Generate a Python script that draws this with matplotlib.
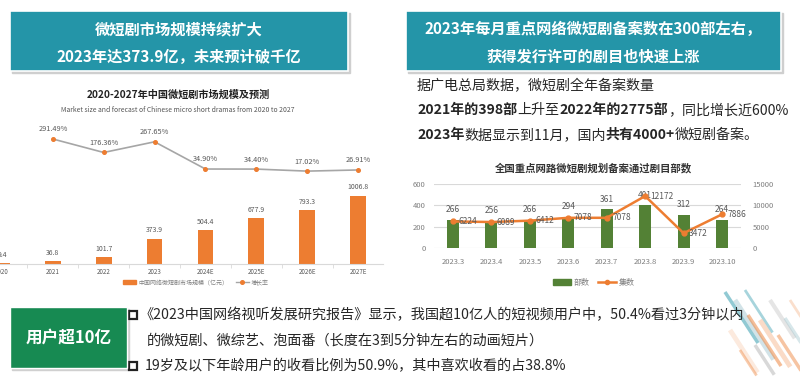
import matplotlib
matplotlib.use('Agg')
import matplotlib.pyplot as plt
from matplotlib.patches import Rectangle
from matplotlib.lines import Line2D

plt.rcParams['font.family'] = ['Noto Sans CJK SC', 'DejaVu Sans']

# ---- data ----
years = ['2020', '2021', '2022', '2023', '2024E', '2025E', '2026E', '2027E']
market_size = [9.4, 36.8, 101.7, 373.9, 504.4, 677.9, 793.3, 1006.8]
growth_years = ['2021', '2022', '2023', '2024E', '2025E', '2026E', '2027E']
growth = [291.49, 176.36, 267.65, 34.90, 34.40, 17.02, 26.91]

months = ['2023.3', '2023.4', '2023.5', '2023.6', '2023.7', '2023.8', '2023.9', '2023.10']
dramas = [266, 256, 266, 294, 361, 401, 312, 264]
episodes = [6224, 6089, 6412, 7078, 7078, 12172, 3472, 7886]

TEAL = '#2495a8'
ORANGE = '#ed7d31'
GREEN_BAR = '#538135'
GRAY_TXT = '#7f7f7f'
DARK = '#262626'

W, H = 800, 378
fig = plt.figure(figsize=(8, 3.78), dpi=100)
bg = fig.add_axes([0, 0, 1, 1])
bg.set_xlim(0, W)
bg.set_ylim(H, 0)
bg.axis('off')


def fx(px):
    return px / W


def fy(py):
    return 1 - py / H


def header(x0, y0, x1, y1, lines, ys, color, size):
    bg.add_patch(Rectangle((x0 + 2, y0 + 2), x1 - x0, y1 - y0, color='#cfcfcf', zorder=1))
    bg.add_patch(Rectangle((x0, y0), x1 - x0, y1 - y0, facecolor=color,
                           edgecolor='white', lw=1.2, zorder=2))
    for s, yy in zip(lines, ys):
        bg.text((x0 + x1) / 2, yy, s, color='white', fontsize=size, fontweight='bold',
                ha='center', va='center', zorder=3)


header(10, 11, 348, 71, ['微短剧市场规模持续扩大', '2023年达373.9亿，未来预计破千亿'],
       [29, 57], TEAL, 11)
header(406, 11, 781, 71, ['2023年每月重点网络微短剧备案数在300部左右，', '获得发行许可的剧目也快速上涨'],
       [29, 57], TEAL, 11)


def rich_line(x, y, segments, size, color=DARK):
    t = bg.text(x, y, segments[0][0], fontsize=size, color=color,
                fontweight='bold' if segments[0][1] else 'normal', va='center', ha='left')
    for s, b in segments[1:]:
        t = bg.annotate(s, xy=(1, 0), xycoords=t, va='bottom', ha='left', fontsize=size,
                        color=color, fontweight='bold' if b else 'normal')


rich_line(417, 86, [('据广电总局数据，微短剧全年备案数量', False)], 10.1)
rich_line(417, 110, [('2021年的398部', True), ('上升至', False), ('2022年的2775部', True),
                     ('，同比增长近600%', False)], 10.1)
rich_line(417, 135, [('2023年', True), ('数据显示到11月，国内', False), ('共有4000+', True),
                     ('微短剧备案。', False)], 10.1)

# ---- left chart: market size ----
x0_px, x7_px = 2, 358
step = (x7_px - x0_px) / 7
left_px = x0_px - step / 2
right_px = x7_px + step / 2
ax1 = fig.add_axes([fx(left_px), fy(264), fx(right_px - left_px), (264 - 120) / H])
xs = range(len(years))
ax1.bar(xs, market_size, width=0.31, color=ORANGE, zorder=2)
ax1.set_xlim(-0.5, len(years) - 0.5)
ax1.set_ylim(0, 2117)
for x, v in zip(xs, market_size):
    ax1.annotate(f'{v:g}', (x, v), xytext=(0, 3), textcoords='offset points',
                 ha='center', va='bottom', fontsize=5, color='#595959')
ax1.set_xticks(list(xs))
ax1.set_xticklabels(years, fontsize=4.5, color='#595959')
ax1.set_xticks([x + 0.5 for x in xs][:-1], minor=True)
ax1.tick_params(axis='x', which='major', length=0, pad=3)
ax1.tick_params(axis='x', which='minor', length=3, color='#d9d9d9')
ax1.set_yticks([])
for sp in ['top', 'left', 'right']:
    ax1.spines[sp].set_visible(False)
ax1.spines['bottom'].set_color('#d9d9d9')
ax1.patch.set_alpha(0)

ax1b = ax1.twinx()
gx = [years.index(y) for y in growth_years]
ax1b.plot(gx, growth, color='#a6a6a6', lw=1.2, marker='o', markersize=2.6,
          markerfacecolor=ORANGE, markeredgecolor=ORANGE, zorder=3)
ax1b.set_ylim(-777, 454)
for x, v in zip(gx, growth):
    ax1b.annotate(f'{v:.2f}%', (x, v), xytext=(0, 4), textcoords='offset points',
                  ha='center', va='bottom', fontsize=5.3, color='#595959')
ax1b.set_yticks([])
ax1b.axis('off')

bg.text(178, 95, '2020-2027年中国微短剧市场规模及预测', fontsize=7.3, fontweight='bold',
        ha='center', va='center', color='#222222')
bg.text(178, 110, 'Market size and forecast of Chinese micro short dramas from 2020 to 2027',
        fontsize=4.9, ha='center', va='center', color='#555555')

h1 = [Rectangle((0, 0), 1, 1, color=ORANGE),
      Line2D([], [], color='#a6a6a6', marker='o', markersize=2.6,
             markerfacecolor=ORANGE, markeredgecolor=ORANGE, lw=1)]
fig.legend(h1, ['中国网络微短剧市场规模（亿元）', '增长率'], loc='center',
           bbox_to_anchor=(fx(196), fy(282)), ncol=2, frameon=False, fontsize=4.3,
           labelcolor='#7f7f7f', handlelength=2.2, handleheight=0.8, columnspacing=1.2,
           handletextpad=0.4)

# ---- right chart: filings ----
m0_px, m7_px = 453, 722
mstep = (m7_px - m0_px) / 7
ax2 = fig.add_axes([fx(m0_px - mstep / 2), fy(248), fx(m7_px - m0_px + mstep), 64 / H])
mx = range(len(months))
ax2.bar(mx, dramas, width=0.31, color=GREEN_BAR, zorder=2)
ax2.set_xlim(-0.5, len(months) - 0.5)
ax2.set_ylim(0, 600)
ax2.set_yticks([0, 200, 400, 600])
ax2.grid(axis='y', color='#d9d9d9', lw=0.8, zorder=0)
ax2.set_axisbelow(True)
ax2.set_xticks(list(mx))
ax2.set_xticklabels(months, fontsize=5.5, color=GRAY_TXT)
ax2.tick_params(axis='x', length=0, pad=7)
ax2.tick_params(axis='y', length=0, pad=6, labelsize=5.5, labelcolor=GRAY_TXT)
for sp in ax2.spines.values():
    sp.set_visible(False)
ax2.patch.set_alpha(0)
for x, v in zip(mx, dramas):
    ax2.annotate(str(v), (x, v), xytext=(0, 4), textcoords='offset points',
                 ha='center', va='bottom', fontsize=6, color='#595959')

ax2b = ax2.twinx()
ax2b.plot(mx, episodes, color=ORANGE, lw=1.8, marker='o', markersize=3.5, zorder=3)
ax2b.set_ylim(0, 15000)
ax2b.set_yticks([0, 5000, 10000, 15000])
ax2b.tick_params(axis='y', length=0, pad=8, labelsize=5.5, labelcolor=GRAY_TXT)
for sp in ax2b.spines.values():
    sp.set_visible(False)
for x, v in zip(mx, episodes):
    ax2b.annotate(str(v), (x, v), xytext=(4, 0), textcoords='offset points',
                  ha='left', va='center', fontsize=6, color='#595959')

bg.text(593, 168, '全国重点网路微短剧规划备案通过剧目部数', fontsize=7.5, fontweight='bold',
        ha='center', va='center', color='#333333')
h2 = [Rectangle((0, 0), 1, 1, color=GREEN_BAR),
      Line2D([], [], color=ORANGE, marker='o', markersize=3, lw=1.8)]
fig.legend(h2, ['部数', '集数'], loc='center', bbox_to_anchor=(fx(594), fy(282)), ncol=2,
           frameon=False, fontsize=5.8, labelcolor=GRAY_TXT, handlelength=2.2,
           handleheight=0.8, columnspacing=1.0, handletextpad=0.4)

# ---- bottom section ----
bg.add_patch(Rectangle((12, 309), 117, 61, color='#d0d0d0', zorder=1))
bg.add_patch(Rectangle((10, 307), 117, 61, facecolor='#178a52', edgecolor='white', lw=1, zorder=2))
bg.text(68.5, 337.5, '用户超10亿', color='white', fontsize=12, fontweight='bold',
        ha='center', va='center', zorder=3)

for yy in [315, 366]:
    bg.add_patch(Rectangle((129, yy - 4), 8, 8, facecolor='none', edgecolor='#222222', lw=1.6))
bg.text(140, 315, '《2023中国网络视听发展研究报告》显示，我国超10亿人的短视频用户中，50.4%看过3分钟以内',
        fontsize=10.2, color=DARK, ha='left', va='center')
bg.text(147, 341, '的微短剧、微综艺、泡面番（长度在3到5分钟左右的动画短片）',
        fontsize=10.2, color=DARK, ha='left', va='center')
bg.text(145, 366, '19岁及以下年龄用户的收看比例为50.9%，其中喜欢收看的占38.8%',
        fontsize=10.2, color=DARK, ha='left', va='center')

# decorative streaks, bottom right
streaks = [(725, 292, 60, TEAL, 2.5, 0.5), (735, 300, 70, '#9dc3cc', 3.5, 0.45),
           (745, 290, 50, TEAL, 2, 0.4), (748, 315, 60, ORANGE, 2.5, 0.5),
           (760, 320, 55, '#f4b183', 3.5, 0.45), (770, 300, 45, '#bfbfbf', 3, 0.4),
           (730, 330, 50, '#f8cbad', 3.5, 0.4), (778, 335, 45, ORANGE, 2.5, 0.45),
           (755, 345, 35, '#7f7f7f', 2.5, 0.3), (785, 318, 30, '#9dc3cc', 2.5, 0.4),
           (740, 350, 30, ORANGE, 2, 0.4), (790, 300, 25, '#f4b183', 2, 0.4)]
for sx, sy, ln, c, lw, a in streaks:
    bg.plot([sx, sx + ln * 0.55], [sy, sy + ln * 0.85], color=c, lw=lw, alpha=a,
            solid_capstyle='butt', zorder=0)

fig.savefig('out.png', dpi=100)
